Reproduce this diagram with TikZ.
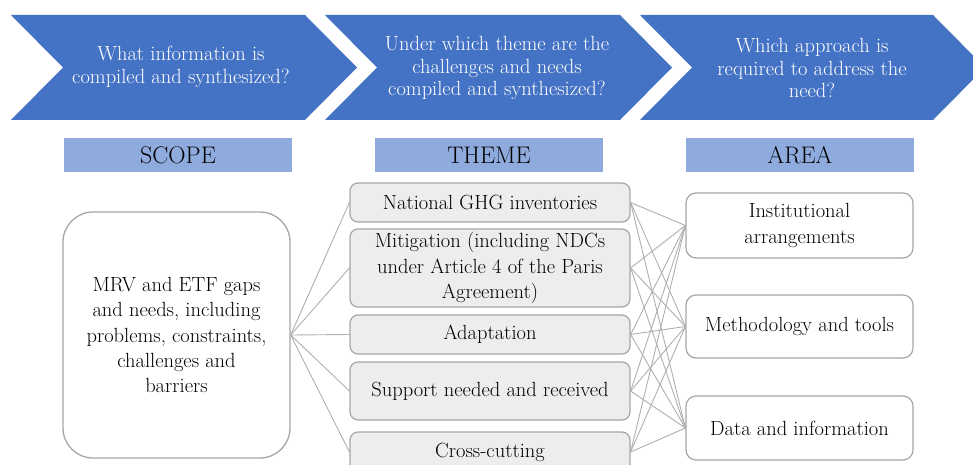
\documentclass[tikz,border=0pt]{standalone}
\definecolor{chevblue}{HTML}{4472C4}
\definecolor{headblue}{HTML}{8FAADC}
\definecolor{boxgray}{HTML}{A6A6A6}
\definecolor{linkgray}{HTML}{AFAFAF}
\definecolor{themefill}{HTML}{EDEDED}
\begin{document}
\begin{tikzpicture}[x=1pt,y=-1pt,
  chev/.style={fill=chevblue},
  qtext/.style={text=white, align=center, inner sep=0pt,
    font=\fontsize{20.5}{22.5}\selectfont},
  header/.style={fill=headblue, minimum width=228pt, minimum height=34pt,
    inner sep=0pt, font=\fontsize{24}{28}\selectfont},
  body/.style={align=center, inner sep=0pt, font=\fontsize{20.5}{25.3}\selectfont},
  scopebox/.style={body, draw=boxgray, line width=1.3pt, fill=white,
    rounded corners=30pt, minimum width=227pt, minimum height=246pt},
  themebox/.style={body, draw=boxgray, line width=1.2pt, fill=themefill,
    rounded corners=8pt, minimum width=280pt},
  areabox/.style={body, draw=boxgray, line width=1.2pt, fill=white,
    rounded corners=10pt, minimum width=227pt},
  link/.style={draw=linkgray, line width=0.9pt}
]
\useasboundingbox (0,0) rectangle (973,465);

% process chevrons
\fill[chev] (11,15) -- (305,15) -- (357,67.5) -- (305,120) -- (11,120) -- (63,67.5) -- cycle;
\fill[chev] (325,15) -- (620,15) -- (672,67.5) -- (620,120) -- (325,120) -- (377,67.5) -- cycle;
\fill[chev] (640,15) -- (933,15) -- (985,67.5) -- (933,120) -- (640,120) -- (692,67.5) -- cycle;
\node[qtext] (q1) at (181,67) {What information is\\compiled and synthesized?};
\node[qtext] (q2) at (497,68) {Under which theme are the\\challenges and needs\\compiled and synthesized?};
\node[qtext] (q3) at (812,68) {Which approach is\\required to address the\\need?};

% column headers
\node[header] (hscope) at (178,155) {SCOPE};
\node[header] (htheme) at (489,155) {THEME};
\node[header] (harea)  at (800,155) {AREA};

% scope
\node[scopebox] (scope) at (176.5,335)
  {MRV and ETF gaps\\and needs, including\\problems, constraints,\\challenges and\\barriers};

% themes
\node[themebox, minimum height=39pt] (t1) at (490,202.5) {National GHG inventories};
\node[themebox, minimum height=78pt] (t2) at (490,268)
  {Mitigation (including NDCs\\under Article 4 of the Paris\\Agreement)};
\node[themebox, minimum height=39pt] (t3) at (490,334.5) {Adaptation};
\node[themebox, minimum height=58pt] (t4) at (490,391) {Support needed and received};
\node[themebox, minimum height=40pt] (t5) at (490,452) {Cross-cutting};

% areas
\node[areabox, minimum height=65pt] (a1) at (799.5,225.5) {Institutional\\arrangements};
\node[areabox, minimum height=63pt] (a2) at (799.5,326.5) {Methodology and tools};
\node[areabox, minimum height=64pt] (a3) at (799.5,428) {Data and information};

% connectors
\foreach \t in {t1,t2,t3,t4,t5} {
  \draw[link] (scope.east) -- (\t.west);
  \foreach \a in {a1,a2,a3}
    \draw[link] (\t.east) -- (\a.west);
}
\end{tikzpicture}
\end{document}
